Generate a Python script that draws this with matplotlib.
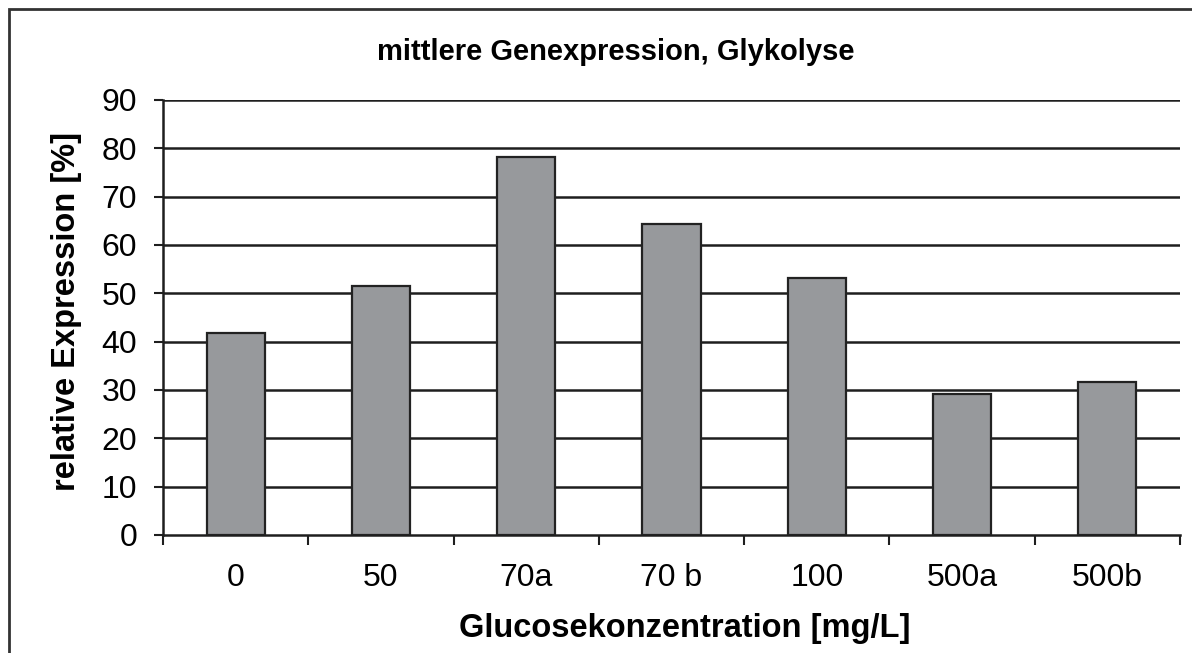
import matplotlib
matplotlib.use('Agg')
import matplotlib.pyplot as plt
from matplotlib.patches import Rectangle

# Data
categories = ['0', '50', '70a', '70 b', '100', '500a', '500b']
expression = [41.8, 51.5, 78.2, 64.3, 53.2, 29.2, 31.7]
y_ticks = [0, 10, 20, 30, 40, 50, 60, 70, 80, 90]

plt.rcParams['font.family'] = ['Liberation Sans', 'DejaVu Sans']

W, H = 1192, 653
fig = plt.figure(figsize=(W / 100, H / 100), dpi=100)
ax = fig.add_axes([163 / W, 1 - 535 / H, (1180 - 163) / W, (535 - 100) / H])

x = list(range(len(categories)))
ax.bar(x, expression, width=0.4, color='#97999c', edgecolor='#222222',
       linewidth=1.6, zorder=3)

# horizontal grid lines
for v in y_ticks[1:]:
    ax.axhline(v, color='#1e1e1e', linewidth=1.8, zorder=1)

ax.set_xlim(-0.5, len(categories) - 0.5)
ax.set_ylim(0, 90)
ax.set_yticks(y_ticks)
ax.set_xticks([i - 0.5 for i in range(len(categories) + 1)])
ax.set_xticklabels([])
ax.set_xticks(x, minor=True)
ax.set_xticklabels(categories, minor=True)

for side in ['top', 'right']:
    ax.spines[side].set_visible(False)
for side in ['left', 'bottom']:
    ax.spines[side].set_linewidth(1.8)
    ax.spines[side].set_color('#1e1e1e')

ax.tick_params(axis='y', direction='out', length=6.5, width=1.5,
               color='#1e1e1e', labelsize=23, pad=12)
ax.tick_params(axis='x', which='major', direction='out', length=7,
               width=1.5, color='#1e1e1e')
ax.tick_params(axis='x', which='minor', length=0, labelsize=23, pad=20)

fig.text(616 / W, 1 - 52 / H, 'mittlere Genexpression, Glykolyse',
         ha='center', va='center', fontsize=21, fontweight='bold')
fig.text(685 / W, 1 - 629 / H, 'Glucosekonzentration [mg/L]',
         ha='center', va='center', fontsize=23.5, fontweight='bold')
fig.text(67 / W, 1 - 311 / H, 'relative Expression [%]', rotation=90,
         ha='center', va='center', fontsize=23.5, fontweight='bold')

# outer chart frame (cut off at right and bottom)
frame = Rectangle((9 / W, -0.1), 1.2, 1 - 9 / H + 0.1, transform=fig.transFigure,
                  fill=False, edgecolor='#333333', linewidth=2, clip_on=False)
fig.patches.append(frame)

fig.savefig('out.png', dpi=100)
